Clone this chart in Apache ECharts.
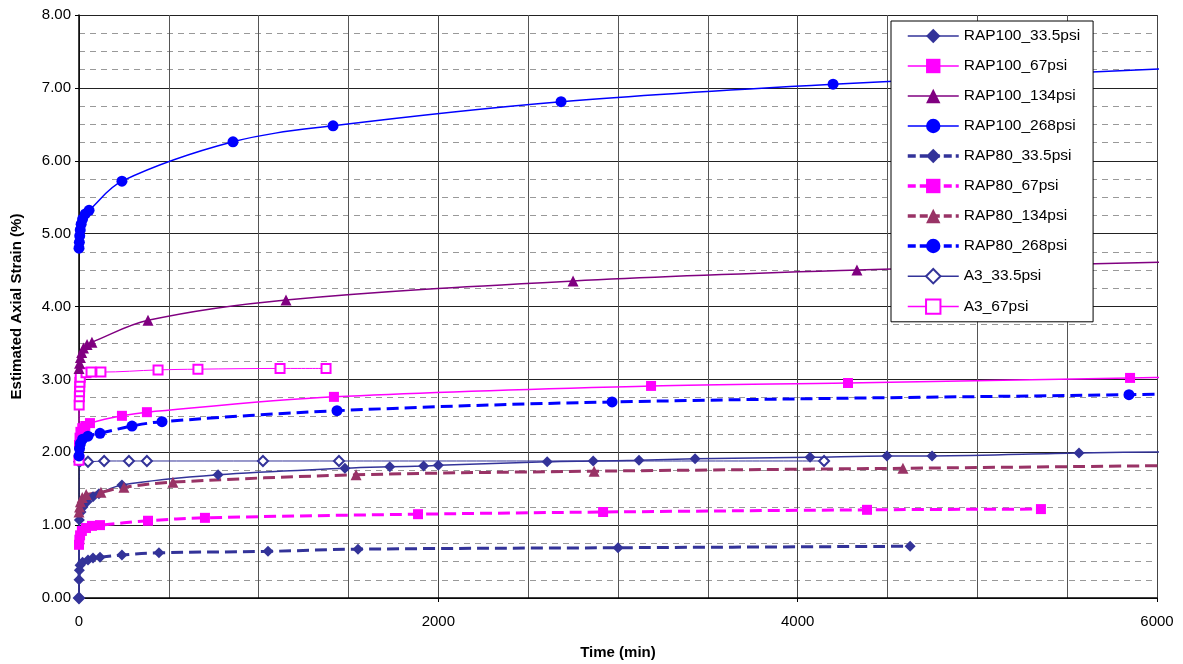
<!DOCTYPE html>
<html>
<head>
<meta charset="utf-8">
<script src="https://cdn.jsdelivr.net/npm/echarts@6/dist/echarts.min.js"></script>
<style>
html,body{margin:0;padding:0;background:#fff;}
#chart{width:1183px;height:664px;}
</style>
</head>
<body>
<div id="chart"></div>
<script>
// ---- data: [time (min), strain (%)] ----
var seriesNames = ['RAP100_33.5psi','RAP100_67psi','RAP100_134psi','RAP100_268psi','RAP80_33.5psi','RAP80_67psi','RAP80_134psi','RAP80_268psi','A3_33.5psi','A3_67psi'];
var rap100_335 = [[0,0],[2,1.07],[11,1.18],[22,1.25],[45,1.32],[78,1.39],[111,1.43],[239,1.55],[774,1.69],[1480,1.78],[1730,1.80],[1918,1.81],[2000,1.82],[2606,1.87],[2862,1.88],[3117,1.89],[3429,1.91],[4069,1.93],[4497,1.95],[4748,1.95],[5566,1.99],[6200,2.01]];
var rap100_67 = [[0,2.10],[3,2.20],[8,2.28],[18,2.33],[35,2.36],[61,2.40],[239,2.50],[378,2.55],[1419,2.76],[3184,2.91],[4280,2.95],[5850,3.02],[6200,3.03]];
var rap100_134 = [[0,3.15],[3,3.22],[8,3.30],[15,3.37],[25,3.43],[45,3.48],[72,3.51],[384,3.81],[1152,4.09],[2750,4.35],[4330,4.50],[6200,4.62]];
var rap100_268 = [[0,4.80],[2,4.88],[4,4.97],[7,5.05],[12,5.13],[20,5.20],[35,5.27],[56,5.32],[239,5.72],[857,6.26],[1414,6.48],[2683,6.81],[4197,7.05],[6200,7.28]];
var rap80_335 = [[0,0.25],[2,0.38],[6,0.45],[20,0.49],[50,0.52],[78,0.55],[117,0.56],[239,0.59],[445,0.62],[1052,0.64],[1553,0.67],[3000,0.69],[4626,0.71]];
var rap80_67 = [[0,0.73],[2,0.80],[6,0.86],[16,0.92],[39,0.96],[72,0.99],[117,1.00],[384,1.06],[701,1.10],[1887,1.15],[2917,1.18],[4386,1.21],[5354,1.22]];
var rap80_134 = [[0,1.18],[3,1.25],[8,1.32],[18,1.38],[40,1.42],[122,1.45],[250,1.52],[523,1.59],[1542,1.69],[2867,1.74],[4586,1.78],[6200,1.82]];
var rap80_268 = [[0,1.95],[3,2.05],[8,2.12],[20,2.18],[50,2.22],[117,2.26],[295,2.36],[462,2.42],[1436,2.57],[2967,2.69],[5844,2.79],[6200,2.80]];
var a3_335 = [[0,0],[2,1.87],[50,1.87],[140,1.88],[278,1.88],[378,1.88],[1024,1.88],[1447,1.88],[4147,1.88]];
var a3_67 = [[0,1.89],[1,2.65],[2,2.76],[3,2.83],[4,2.90],[5,2.96],[7,3.03],[39,3.09],[67,3.10],[122,3.10],[440,3.13],[662,3.14],[1119,3.15],[1375,3.15]];

var FONT = 'Liberation Sans, Arial, sans-serif';
function mk(name, data, color, symbol, size, dashed, width, z) {
  return {
    name: name, type: 'line', data: data, z: z,
    smooth: 0.35,
    symbol: symbol, symbolSize: size,
    showAllSymbol: true,
    clip: true,
    itemStyle: { color: color, borderColor: color, borderWidth: symbol.indexOf('empty') === 0 ? 1.2 : 0 },
    lineStyle: { color: color, width: width, type: dashed ? [12, 6] : 'solid' },
    emphasis: { disabled: true },
    animation: false
  };
}
var legendData = seriesNames.map(function (n) {
  var dashed = n.indexOf('RAP80') === 0;
  return { name: n, lineStyle: dashed ? { width: 3.5, type: [8, 4] } : { width: 1.5 } };
});
var chart = echarts.init(document.getElementById('chart'));
chart.setOption({
  backgroundColor: '#fff',
  animation: false,
  grid: { left: 79, right: 26, top: 15, bottom: 66, containLabel: false, outerBoundsMode: 'none' },
  legend: {
    orient: 'vertical', left: 891, top: 21,
    itemWidth: 51, itemHeight: 18, itemGap: 14,
    padding: [7, 13, 7, 15],
    backgroundColor: '#fff', borderColor: '#000', borderWidth: 1, borderRadius: 0,
    textStyle: { fontFamily: FONT, fontSize: 15.5, color: '#000' },
    data: legendData
  },
  xAxis: {
    type: 'value', min: 0, max: 6000, interval: 2000,
    name: 'Time (min)', nameLocation: 'middle', nameGap: 47,
    nameTextStyle: { fontFamily: FONT, fontSize: 15, fontWeight: 'bold', color: '#000' },
    axisLine: { show: true, lineStyle: { color: '#000', width: 1.5 } },
    axisTick: { show: true, length: 4, lineStyle: { color: '#000' } },
    axisLabel: { fontFamily: FONT, fontSize: 15, color: '#000', margin: 16,
      formatter: function (v) { return String(v); } },
    splitLine: { show: true, lineStyle: { color: '#444', width: 1 } },
    minorTick: { show: false, splitNumber: 4 },
    minorSplitLine: { show: true, lineStyle: { color: '#555', width: 1 } }
  },
  yAxis: {
    type: 'value', min: 0, max: 8, interval: 1,
    name: 'Estimated Axial Strain (%)', nameLocation: 'middle', nameGap: 55,
    nameTextStyle: { fontFamily: FONT, fontSize: 15, fontWeight: 'bold', color: '#000' },
    axisLine: { show: true, lineStyle: { color: '#000', width: 1.5 } },
    axisTick: { show: true, length: 4, lineStyle: { color: '#000' } },
    axisLabel: { fontFamily: FONT, fontSize: 15, color: '#000', margin: 8,
      formatter: function (v) { return v.toFixed(2); } },
    splitLine: { show: true, lineStyle: { color: '#222', width: 1 } },
    minorTick: { show: false, splitNumber: 4 },
    minorSplitLine: { show: true, lineStyle: { color: '#999', width: 1, type: [6, 5] } }
  },
  series: [
    mk(seriesNames[0], rap100_335, '#333399', 'diamond', 11, false, 1.5, 3),
    mk(seriesNames[1], rap100_67, '#FF00FF', 'rect', 10, false, 1.5, 3),
    mk(seriesNames[2], rap100_134, '#800080', 'triangle', 11, false, 1.5, 3),
    mk(seriesNames[3], rap100_268, '#0000FF', 'circle', 11, false, 1.5, 3),
    mk(seriesNames[4], rap80_335, '#333399', 'diamond', 11, true, 3, 3),
    mk(seriesNames[5], rap80_67, '#FF00FF', 'rect', 10, true, 3, 3),
    mk(seriesNames[6], rap80_134, '#993366', 'triangle', 11, true, 3, 3),
    mk(seriesNames[7], rap80_268, '#0000FF', 'circle', 11, true, 3, 3),
    mk(seriesNames[8], a3_335, '#333399', 'emptyDiamond', 10, false, 1, 2),
    mk(seriesNames[9], a3_67, '#FF00FF', 'emptyRect', 9, false, 1, 2)
  ]
});
</script>
</body>
</html>
